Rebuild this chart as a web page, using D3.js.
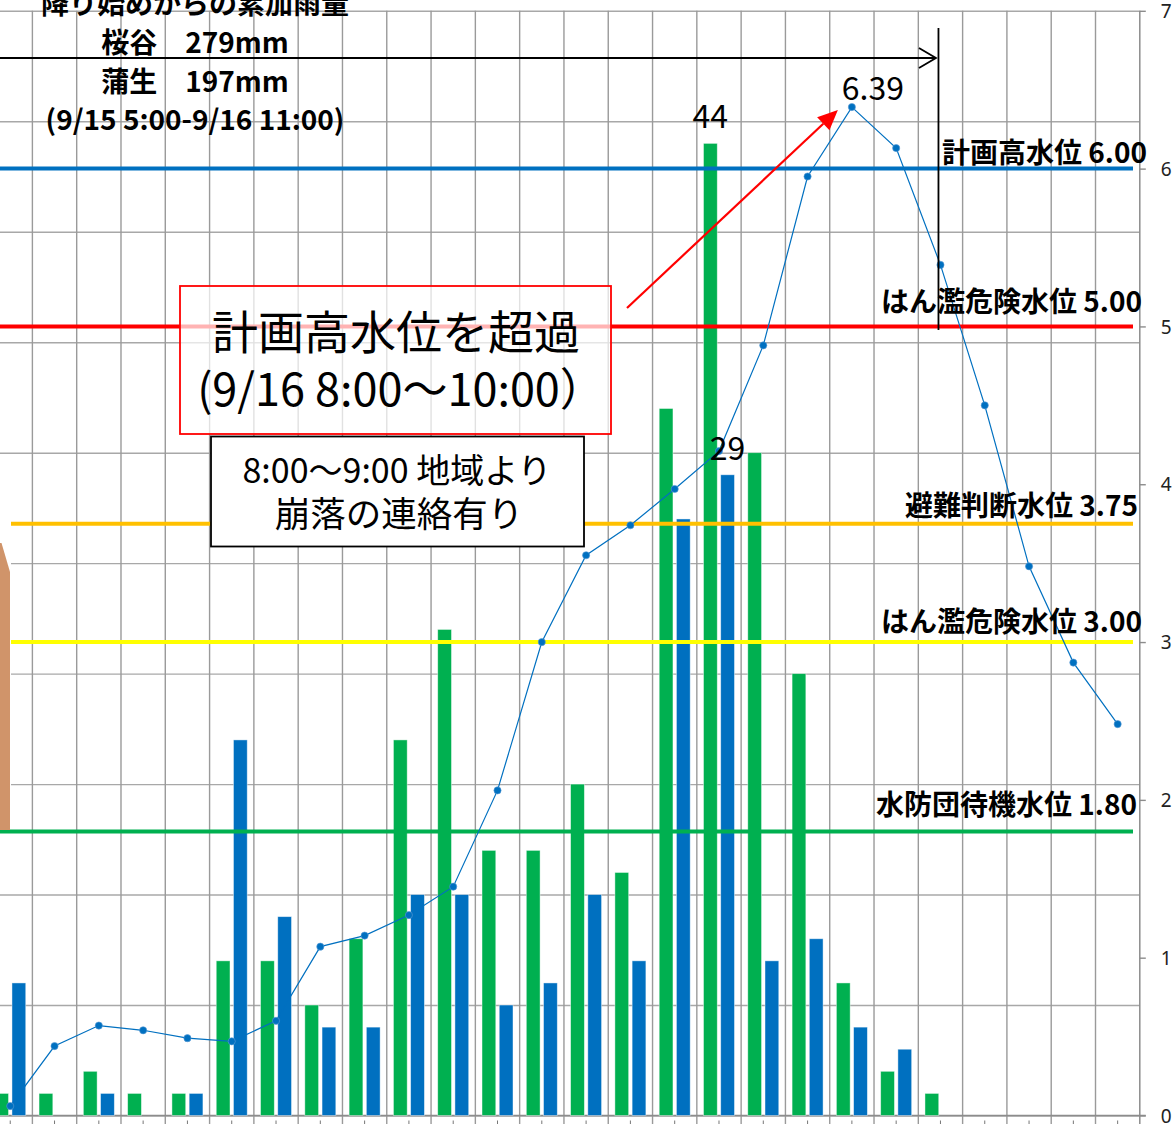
<!DOCTYPE html>
<html><head><meta charset="utf-8">
<script src="https://cdn.jsdelivr.net/npm/d3@7"></script>
<style>html,body{margin:0;padding:0;background:#fff;} svg{display:block;}</style>
</head><body><svg id="c" width="1173" height="1124"></svg>
<script>
// ---------- data ----------
const categories = ["9/15 14:00","9/15 15:00","9/15 16:00","9/15 17:00","9/15 18:00","9/15 19:00","9/15 20:00","9/15 21:00","9/15 22:00","9/15 23:00",
  "9/16 0:00","9/16 1:00","9/16 2:00","9/16 3:00","9/16 4:00","9/16 5:00","9/16 6:00","9/16 7:00","9/16 8:00","9/16 9:00","9/16 10:00","9/16 11:00","9/16 12:00","9/16 13:00","9/16 14:00","9/16 15:00"];
const seriesNames = ["桜谷","蒲生"];
const rainSakuradani = [1,1,2,1,1,7,7,5,8,17,22,12,12,15,11,32,44,30,20,6,2,1,0,0,0,0];
const rainGamo       = [6,0,1,0,1,17,9,4,4,10,10,5,6,10,7,27,29,7,8,4,3,0,0,0,0,0];
const waterLevel = [0.06,0.44,0.57,0.54,0.49,0.47,0.60,1.07,1.14,1.27,1.45,2.06,3.00,3.55,3.74,3.97,4.21,4.88,5.95,6.39,6.13,5.39,4.50,3.48,2.87,2.48];
const rainTicks = [0,5,10,15,20,25,30,35,40,45,50];
const levelTicks = [0,1,2,3,4,5,6,7];
const refLevels = [6.00,5.00,3.75,3.00,1.80];
const refNames = ["計画高水位","はん濫危険水位","避難判断水位","はん濫危険水位","水防団待機水位"];
const titleLines = ["降り始めからの累加雨量","桜谷　279mm","蒲生　197mm","(9/15 5:00-9/16 11:00)"];
const noteRed = ["計画高水位を超過","(9/16 8:00〜10:00）"];
const noteBlack = ["8:00〜9:00 地域より","崩落の連絡有り"];

// ---------- styles ----------
const barColors = ["#00B050","#0070C0"];
const refColors = ["#0070C0","#FF0000","#FFC000","#FFFF00","#00B050"];
const FONT = "'Noto Sans CJK JP','Noto Sans',sans-serif";

// ---------- scales ----------
const svg = d3.select("#c");
svg.append("rect").attr("width",1173).attr("height",1124).attr("fill","#fff");
const plotTop = 10.8, plotBottom = 1115.5, plotLeft = -11.9, plotRight = 1139.8;
const x = d3.scaleBand().domain(categories).range([plotLeft, plotRight]);
const bw = x.bandwidth();
const xc = c => x(c) + bw/2;
const xSub = d3.scaleBand().domain(seriesNames).range([bw/2-15.5, bw/2+15.5]).paddingInner(0.2);
const yRain = d3.scaleLinear().domain([0,50]).range([plotBottom, plotTop]);
const yLevel = d3.scaleLinear().domain([0,7]).range([plotBottom, plotTop]);

// ---------- grid ----------
const gridH = svg.append("g").attr("transform",`translate(${plotLeft},0)`)
  .call(d3.axisLeft(yRain).tickValues(rainTicks).tickSize(-(plotRight-plotLeft)).tickFormat(""));
gridH.select(".domain").remove();
gridH.selectAll("line").attr("stroke","#a8a8a8").attr("stroke-width",1.4);

svg.append("g").selectAll("line").data(categories.slice(1)).join("line")
  .attr("x1",d=>x(d)).attr("x2",d=>x(d)).attr("y1",plotTop).attr("y2",1124)
  .attr("stroke","#9a9a9a").attr("stroke-width",1.4);

// small ticks under category centers
svg.append("g").selectAll("line").data(categories).join("line")
  .attr("x1",d=>xc(d)).attr("x2",d=>xc(d)).attr("y1",1120.5).attr("y2",1124)
  .attr("stroke","#777").attr("stroke-width",1);

// bottom axis line
svg.append("line").attr("x1",0).attr("x2",plotRight+6).attr("y1",plotBottom).attr("y2",plotBottom)
  .attr("stroke","#8c8c8c").attr("stroke-width",1.5);

// right axis
const ax = svg.append("g").attr("transform",`translate(${plotRight},0)`)
  .call(d3.axisRight(yLevel).tickValues(levelTicks).tickSize(6).tickPadding(15).tickFormat(d3.format("d")));
ax.attr("font-size",null).attr("font-family",null);
ax.select(".domain").remove();
ax.selectAll("line").attr("stroke","#8c8c8c").attr("stroke-width",1.4);
ax.selectAll("text").attr("font-size",19).style("font-family","'Noto Sans',sans-serif").style("font-size","19px").attr("fill","#222").attr("dy","0.35em");
svg.append("line").attr("x1",plotRight).attr("x2",plotRight).attr("y1",plotTop).attr("y2",1124)
  .attr("stroke","#8c8c8c").attr("stroke-width",1.5);

// ---------- bars ----------
const rows = categories.map((c,i)=>({c, vals:[rainSakuradani[i], rainGamo[i]]}));
const bars = svg.append("g");
rows.forEach(r=>{
  r.vals.forEach((v,j)=>{
    if(!v) return;
    bars.append("rect")
      .attr("x", x(r.c)+xSub(seriesNames[j]))
      .attr("width", xSub.bandwidth())
      .attr("y", yRain(v))
      .attr("height", yRain(0)-yRain(v))
      .attr("fill", barColors[j])
      .attr("stroke","rgba(255,255,255,0.55)").attr("stroke-width",0.8);
  });
});

// ---------- reference lines ----------
svg.append("g").selectAll("line").data(refLevels).join("line")
  .attr("x1",0).attr("x2",1133)
  .attr("y1",d=>yLevel(d)).attr("y2",d=>yLevel(d))
  .attr("stroke",(d,i)=>refColors[i]).attr("stroke-width",4);

// cover at left edge + tan arrow shape
svg.append("rect").attr("x",0).attr("y",505).attr("width",11).attr("height",322).attr("fill","#fff");
svg.append("polygon").attr("points","0,543 1.5,543 10,572 10,830 0,830").attr("fill","#D0946A");

// ---------- water level line ----------
const lineGen = d3.line().x((d,i)=>xc(categories[i])).y(d=>yLevel(d));
svg.append("path").datum(waterLevel).attr("d",lineGen)
  .attr("fill","none").attr("stroke","#0070C0").attr("stroke-width",1.2);
svg.append("g").selectAll("circle").data(waterLevel).join("circle")
  .attr("cx",(d,i)=>xc(categories[i])).attr("cy",d=>yLevel(d)).attr("r",3.6)
  .attr("fill","#0070C0").attr("stroke","#5b9bd5").attr("stroke-width",0.6);

// ---------- reference labels ----------
const refLabelLayout = [{x:1147,dy:-6},{x:1142,dy:-14},{x:1138,dy:-8},{x:1142,dy:-10},{x:1137,dy:-16}];
svg.append("g").selectAll("text").data(refLevels).join("text")
  .attr("x",(d,i)=>refLabelLayout[i].x).attr("y",(d,i)=>yLevel(d)+refLabelLayout[i].dy)
  .attr("text-anchor","end").attr("font-family",FONT).attr("font-weight","bold")
  .attr("font-size",28).attr("fill","#000")
  .text((d,i)=>refNames[i]+" "+d3.format(".2f")(d));

// ---------- data labels ----------
const iPeakRain = rainSakuradani.indexOf(d3.max(rainSakuradani));
const iPeakLevel = waterLevel.indexOf(d3.max(waterLevel));
const cR = categories[iPeakRain];
svg.append("text").attr("x",x(cR)+xSub(seriesNames[0])+xSub.bandwidth()/2).attr("y",yRain(rainSakuradani[iPeakRain])-15)
  .attr("text-anchor","middle").attr("font-family",FONT).attr("font-size",32).text(rainSakuradani[iPeakRain]);
svg.append("text").attr("x",x(cR)+xSub(seriesNames[1])+xSub.bandwidth()/2).attr("y",yRain(rainGamo[iPeakRain])-15)
  .attr("text-anchor","middle").attr("font-family",FONT).attr("font-size",32).text(rainGamo[iPeakRain]);
const cL = categories[iPeakLevel];
svg.append("text").attr("x",xc(cL)+21).attr("y",yLevel(waterLevel[iPeakLevel])-7)
  .attr("text-anchor","middle").attr("font-family",FONT).attr("font-size",32).text(d3.format(".2f")(waterLevel[iPeakLevel]));

// ---------- title text ----------
const titleBaselines = [14,53,92,130];
svg.append("g").selectAll("text").data(titleLines).join("text")
  .attr("x",195).attr("y",(d,i)=>titleBaselines[i]).attr("text-anchor","middle")
  .attr("font-family",FONT).attr("font-weight","bold").attr("font-size",28).attr("fill","#000")
  .attr("xml:space","preserve").text(d=>d);

// period arrow
const xEnd = xc(categories[21]) - 3.5;
svg.append("line").attr("x1",0).attr("x2",xEnd-1).attr("y1",58).attr("y2",58).attr("stroke","#000").attr("stroke-width",1.8);
svg.append("path").attr("d",`M${xEnd-18},48 L${xEnd-1},58 L${xEnd-18},68`).attr("fill","none").attr("stroke","#000").attr("stroke-width",1.8);
svg.append("line").attr("x1",xEnd+1.5).attr("x2",xEnd+1.5).attr("y1",28).attr("y2",330).attr("stroke","#000").attr("stroke-width",1.8);

// red arrow
const tip = [xc(cL)-14, yLevel(waterLevel[iPeakLevel])+3], start = [627,308];
const ang = Math.atan2(tip[1]-start[1], tip[0]-start[0]);
const hl = 20, hw = 9;
const base = [tip[0]-hl*Math.cos(ang), tip[1]-hl*Math.sin(ang)];
svg.append("line").attr("x1",start[0]).attr("y1",start[1]).attr("x2",base[0]).attr("y2",base[1])
  .attr("stroke","#FF0000").attr("stroke-width",2.2);
svg.append("polygon").attr("points",[
  tip, [base[0]+hw*Math.sin(ang), base[1]-hw*Math.cos(ang)], [base[0]-hw*Math.sin(ang), base[1]+hw*Math.cos(ang)]
].map(p=>p.join(",")).join(" ")).attr("fill","#FF0000");

// red note box
svg.append("rect").attr("x",180).attr("y",286).attr("width",431).attr("height",148)
  .attr("fill","#fff").attr("fill-opacity",0.7).attr("stroke","#FF0000").attr("stroke-width",1.8);
svg.append("g").selectAll("text").data(noteRed).join("text")
  .attr("x",(d,i)=>[396,401][i]).attr("y",(d,i)=>[349,406][i]).attr("text-anchor","middle")
  .attr("font-family",FONT).attr("font-size",(d,i)=>[46,45][i]).attr("fill","#000").text(d=>d);

// black note box
svg.append("rect").attr("x",211).attr("y",436.5).attr("width",373).attr("height",110)
  .attr("fill","#fff").attr("stroke","#000").attr("stroke-width",1.8);
svg.append("g").selectAll("text").data(noteBlack).join("text")
  .attr("x",(d,i)=>[397,399][i]).attr("y",(d,i)=>[483,527][i]).attr("text-anchor","middle")
  .attr("font-family",FONT).attr("font-size",(d,i)=>[34,35.5][i]).attr("fill","#000").text(d=>d);
</script></body></html>
